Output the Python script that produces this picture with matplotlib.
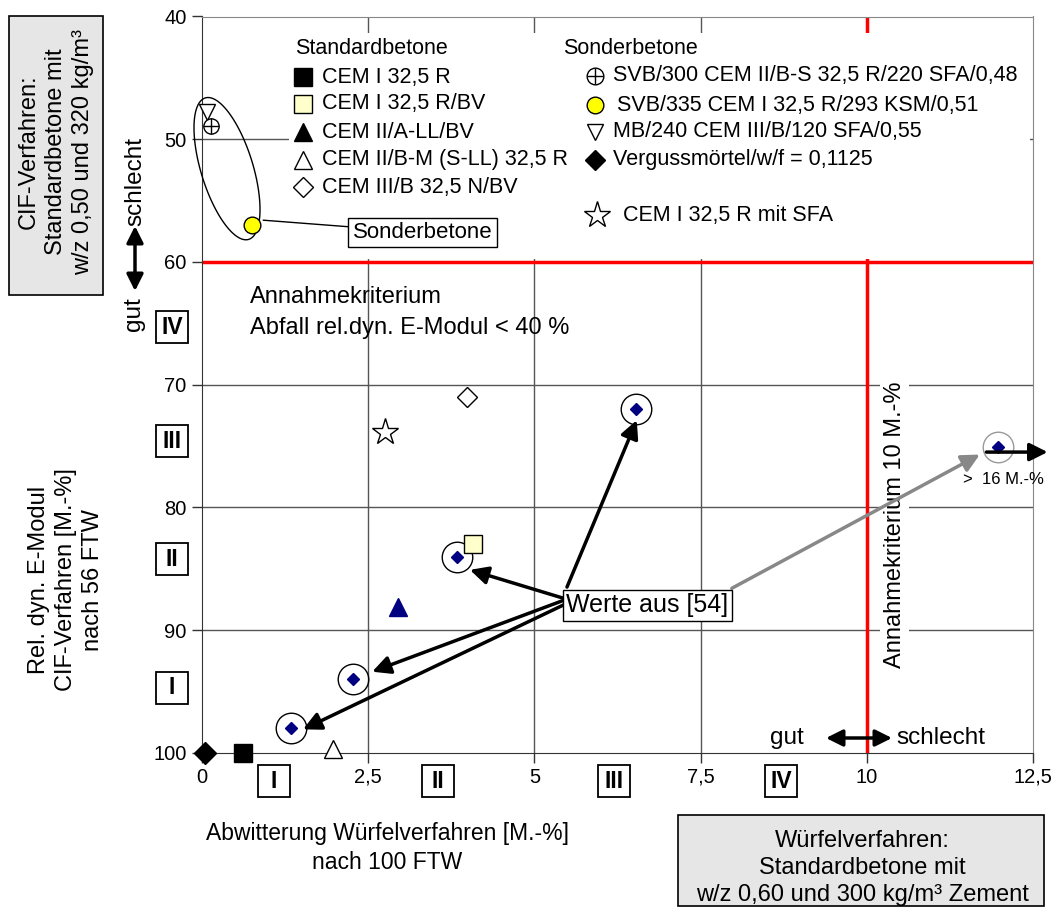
import numpy as np
import matplotlib
matplotlib.use('Agg')
import matplotlib.pyplot as plt
from matplotlib.patches import Rectangle, Polygon
from matplotlib.lines import Line2D

plt.rcParams['font.family'] = ['Liberation Sans', 'DejaVu Sans']

W, H = 1056, 909

# --- data (x: Abwitterung M.-%, y: rel. dyn. E-Modul %) ---
vm_x, vm_y = [0.05], [100.0]            # Vergussmoertel
cem1_x, cem1_y = [0.62], [100.0]        # CEM I 32,5 R
cem1bv_x, cem1bv_y = [4.08], [83.0]     # CEM I 32,5 R/BV
cem2all_x, cem2all_y = [2.95], [88.1]   # CEM II/A-LL/BV
cem2bm_x, cem2bm_y = [1.97], [99.7]     # CEM II/B-M (S-LL)
cem3b_x, cem3b_y = [3.98], [71.0]       # CEM III/B
sfa_x, sfa_y = [2.76], [73.9]           # CEM I mit SFA
svb300_x, svb300_y = [0.14], [48.9]
svb335_x, svb335_y = [0.75], [57.0]
mb240_x, mb240_y = [0.07], [47.8]
lit_x = [1.34, 2.27, 3.83, 6.53, 11.98]  # Werte aus [54]
lit_y = [98.0, 94.0, 84.05, 72.0, 75.1]

xticks = [0, 2.5, 5, 7.5, 10, 12.5]
xlabels = ['0', '2,5', '5', '7,5', '10', '12,5']
yticks = [40, 50, 60, 70, 80, 90, 100]


def fx(px):
    return px / W


def fy(py):
    return 1 - py / H


fig = plt.figure(figsize=(W / 100, H / 100), dpi=100)
ax = fig.add_axes([fx(202), fy(752.7), 831 / W, 736.2 / H])
ax.set_xlim(0, 12.5)
ax.set_ylim(100, 40)
ax.set_xticks(xticks)
ax.set_xticklabels(xlabels)
ax.set_yticks(yticks)
ax.tick_params(direction='out', length=7, width=1, labelsize=14.5, color='#333333', pad=4)

for s in ['left', 'bottom']:
    ax.spines[s].set_color('#333333')
for s in ['top', 'right']:
    ax.spines[s].set_color('#888888')

# grid + criteria
for yv in [50, 70, 80, 90]:
    ax.axhline(yv, color='#555555', lw=1, zorder=0.5)
for xv in [2.5, 5, 7.5]:
    ax.axvline(xv, color='#555555', lw=1, zorder=0.5)
ax.axhline(60, color='red', lw=2.5, zorder=1)
ax.axvline(10, color='red', lw=2.5, zorder=1)

# legend background
ax.add_patch(Rectangle((fx(289), fy(259)), 741 / W, 226 / H, transform=fig.transFigure,
                       facecolor='white', edgecolor='none', zorder=3))

# Sonderbetone ellipse (drawn in pixel space, mapped to data)
sx, sy = 831 / 12.5, 736.2 / 60
cx, cy = 0.376, 52.4
ang = np.arctan2(140, 43)
t = np.linspace(0, 2 * np.pi, 100)
a, b = 74, 26
px = a * np.cos(t) * np.cos(ang) - b * np.sin(t) * np.sin(ang)
py = a * np.cos(t) * np.sin(ang) + b * np.sin(t) * np.cos(ang)
ax.add_patch(Polygon(np.column_stack([cx + px / sx, cy + py / sy]), closed=True,
                     fill=False, edgecolor='black', lw=1, zorder=4, clip_on=False))

# data points
ms = 13
ax.plot(vm_x, vm_y, 'D', color='black', ms=11, clip_on=False, zorder=6)
ax.plot(cem1_x, cem1_y, 's', color='black', ms=ms, clip_on=False, zorder=6)
ax.plot(cem1bv_x, cem1bv_y, 's', mfc='#ffffcc', mec='black', ms=ms, zorder=6)
ax.plot(cem2all_x, cem2all_y, '^', color='#000080', ms=ms, zorder=6)
ax.plot(cem2bm_x, cem2bm_y, '^', mfc='white', mec='black', ms=ms, clip_on=False, zorder=6)
ax.plot(cem3b_x, cem3b_y, 'D', mfc='white', mec='black', ms=10, zorder=6)
ax.plot(sfa_x, sfa_y, '*', mfc='white', mec='black', ms=20, mew=1, zorder=6)
ax.plot(mb240_x, mb240_y, 'v', mfc='white', mec='black', ms=11, zorder=6, clip_on=False)
ax.plot(svb300_x, svb300_y, 'o', mfc='white', mec='black', ms=11, zorder=6)
ax.plot(svb300_x, svb300_y, '+', color='black', ms=11, mew=1, zorder=7)
ax.plot(svb335_x, svb335_y, 'o', mfc='#ffff00', mec='black', ms=12, zorder=6)
ax.plot(lit_x, lit_y, 'D', color='#000080', ms=6, zorder=6)
ax.plot(lit_x[:4], lit_y[:4], 'o', mfc='none', mec='black', ms=22, mew=1, zorder=5)
ax.plot(lit_x[4:], lit_y[4:], 'o', mfc='none', mec='#999999', ms=22, mew=1, zorder=5)

# Werte aus [54] arrows
tips = [(6.54, 72.9), (4.03, 85.1), (2.56, 93.4), (1.52, 98.1)]
starts = [(5.49, 86.5), (5.43, 87.4), (5.43, 87.6), (5.46, 87.9)]
for tp, st in zip(tips, starts):
    ax.annotate('', xy=tp, xytext=st, zorder=7,
                arrowprops=dict(arrowstyle='-|>', lw=2.5, color='black', mutation_scale=27,
                                shrinkA=0, shrinkB=0))
ax.annotate('', xy=(11.7, 75.7), xytext=(7.97, 86.6), zorder=7,
            arrowprops=dict(arrowstyle='-|>', lw=2.5, color='#888888', mutation_scale=27,
                            shrinkA=0, shrinkB=0))
ax.text(6.7, 88.0, 'Werte aus [54]', fontsize=18, ha='center', va='center', zorder=8,
        bbox=dict(boxstyle='square,pad=0.15', fc='white', ec='black', lw=1))

ax.annotate('', xy=(12.72, 75.5), xytext=(11.8, 75.5), zorder=8, annotation_clip=False,
            arrowprops=dict(arrowstyle='-|>', lw=2.5, color='black', mutation_scale=27,
                            shrinkA=0, shrinkB=0))
ax.text(12.05, 77.7, '>  16 M.-%', fontsize=12, ha='center', va='center', zorder=8)

ax.annotate('Sonderbetone', xy=(0.92, 56.6), xytext=(3.32, 57.6), fontsize=16,
            ha='center', va='center', zorder=8,
            bbox=dict(boxstyle='square,pad=0.2', fc='white', ec='black', lw=1),
            arrowprops=dict(arrowstyle='-', color='black', lw=1, shrinkA=0, shrinkB=0))

ax.text(10.42, 81.4, 'Annahmekriterium 10 M.-%', rotation=90, fontsize=17,
        ha='center', va='center', zorder=4,
        bbox=dict(boxstyle='square,pad=0.15', fc='white', ec='none'))

fig.text(fx(250), fy(297), 'Annahmekriterium', fontsize=17, va='center')
fig.text(fx(250), fy(328), 'Abfall rel.dyn. E-Modul < 40 %', fontsize=17, va='center')

# legend
fig.text(fx(295), fy(49), 'Standardbetone', fontsize=15.5, va='center')
fig.text(fx(563), fy(49), 'Sonderbetone', fontsize=15.5, va='center')
std_rows = [
    ('s', dict(color='black'), 'CEM I 32,5 R'),
    ('s', dict(mfc='#ffffcc', mec='black'), 'CEM I 32,5 R/BV'),
    ('^', dict(color='black'), 'CEM II/A-LL/BV'),
    ('^', dict(mfc='white', mec='black'), 'CEM II/B-M (S-LL) 32,5 R'),
    ('D', dict(mfc='white', mec='black'), 'CEM III/B 32,5 N/BV'),
]
std_y = [77, 104, 132, 160, 187]
for (mk, kw, lab), yy in zip(std_rows, std_y):
    fig.add_artist(Line2D([fx(303)], [fy(yy)], marker=mk, ms=13 if mk != 'D' else 10,
                          transform=fig.transFigure, **kw))
    fig.text(fx(322), fy(yy), lab, fontsize=15.5, va='center')

son_y = [76, 105, 132, 160, 215]
son_lab = ['SVB/300 CEM II/B-S 32,5 R/220 SFA/0,48', 'SVB/335 CEM I 32,5 R/293 KSM/0,51',
           'MB/240 CEM III/B/120 SFA/0,55', 'Vergussmörtel/w/f = 0,1125', 'CEM I 32,5 R mit SFA']
son_tx = [613, 617, 613, 613, 623]
fig.add_artist(Line2D([fx(595)], [fy(son_y[0])], marker='o', ms=12, mfc='white', mec='black',
                      transform=fig.transFigure))
fig.add_artist(Line2D([fx(595)], [fy(son_y[0])], marker='+', ms=12, color='black', mew=1,
                      transform=fig.transFigure))
fig.add_artist(Line2D([fx(595)], [fy(son_y[1])], marker='o', ms=12, mfc='#ffff00', mec='black',
                      transform=fig.transFigure))
fig.add_artist(Line2D([fx(595)], [fy(son_y[2])], marker='v', ms=12, mfc='white', mec='black',
                      transform=fig.transFigure))
fig.add_artist(Line2D([fx(595)], [fy(son_y[3])], marker='D', ms=10, color='black',
                      transform=fig.transFigure))
fig.add_artist(Line2D([fx(597)], [fy(son_y[4])], marker='*', ms=20, mfc='white', mec='black',
                      mew=1, transform=fig.transFigure))
for lab, yy, tx in zip(son_lab, son_y, son_tx):
    fig.text(fx(tx), fy(yy), lab, fontsize=15.5, va='center')


# roman numeral class boxes
def numbox(cxp, cyp, s):
    fig.add_artist(Rectangle((fx(cxp - 16), fy(cyp + 16)), 32 / W, 32 / H,
                             transform=fig.transFigure, fc='white', ec='black', lw=1.3))
    fig.text(fx(cxp), fy(cyp), s, fontsize=16.5, fontweight='bold', ha='center', va='center')


for s, yy in zip(['IV', 'III', 'II', 'I'], [327, 441, 559, 688]):
    numbox(172, yy, s)
for s, xx in zip(['I', 'II', 'III', 'IV'], [274, 438, 614, 781]):
    numbox(xx, 781, s)

# axis labels
fig.text(fx(66), fy(580), 'Rel. dyn. E-Modul\nCIF-Verfahren [M.-%]\nnach 56 FTW', rotation=90,
         fontsize=17, ha='center', va='center', linespacing=1.3)
fig.text(fx(387), fy(848), 'Abwitterung Würfelverfahren [M.-%]\nnach 100 FTW',
         fontsize=16.5, ha='center', va='center', linespacing=1.3)

# gray info boxes
fig.add_artist(Rectangle((fx(9), fy(295)), 94 / W, 279 / H, transform=fig.transFigure,
                         fc='#e6e6e6', ec='black', lw=1.2))
fig.text(fx(56), fy(152), 'CIF-Verfahren:\nStandardbetone mit\nw/z 0,50 und 320 kg/m³',
         rotation=90, fontsize=17, ha='center', va='center', linespacing=1.3)
fig.add_artist(Rectangle((fx(678), fy(906)), 366 / W, 91 / H, transform=fig.transFigure,
                         fc='#e6e6e6', ec='black', lw=1.2))
fig.text(fx(862), fy(868), 'Würfelverfahren:\nStandardbetone mit\nw/z 0,60 und 300 kg/m³ Zement',
         fontsize=17, ha='center', va='center', linespacing=1.3)

# gut / schlecht arrows
fig.text(fx(135), fy(181), 'schlecht', rotation=90, fontsize=17.5, ha='center', va='center')
fig.text(fx(134), fy(314), 'gut', rotation=90, fontsize=17.5, ha='center', va='center')
ax.annotate('', xy=(fx(135), fy(226)), xytext=(fx(135), fy(291)), xycoords='figure fraction',
            textcoords='figure fraction', annotation_clip=False,
            arrowprops=dict(arrowstyle='<|-|>', lw=2.5, color='black', mutation_scale=25,
                            shrinkA=0, shrinkB=0))
fig.text(fx(787), fy(738), 'gut', fontsize=17.5, ha='center', va='center')
fig.text(fx(896), fy(738), 'schlecht', fontsize=17.5, ha='left', va='center')
ax.annotate('', xy=(fx(826), fy(738)), xytext=(fx(892), fy(738)), xycoords='figure fraction',
            textcoords='figure fraction', annotation_clip=False, zorder=8,
            arrowprops=dict(arrowstyle='<|-|>', lw=2.5, color='black', mutation_scale=25,
                            shrinkA=0, shrinkB=0))

fig.savefig('out.png', dpi=100)
